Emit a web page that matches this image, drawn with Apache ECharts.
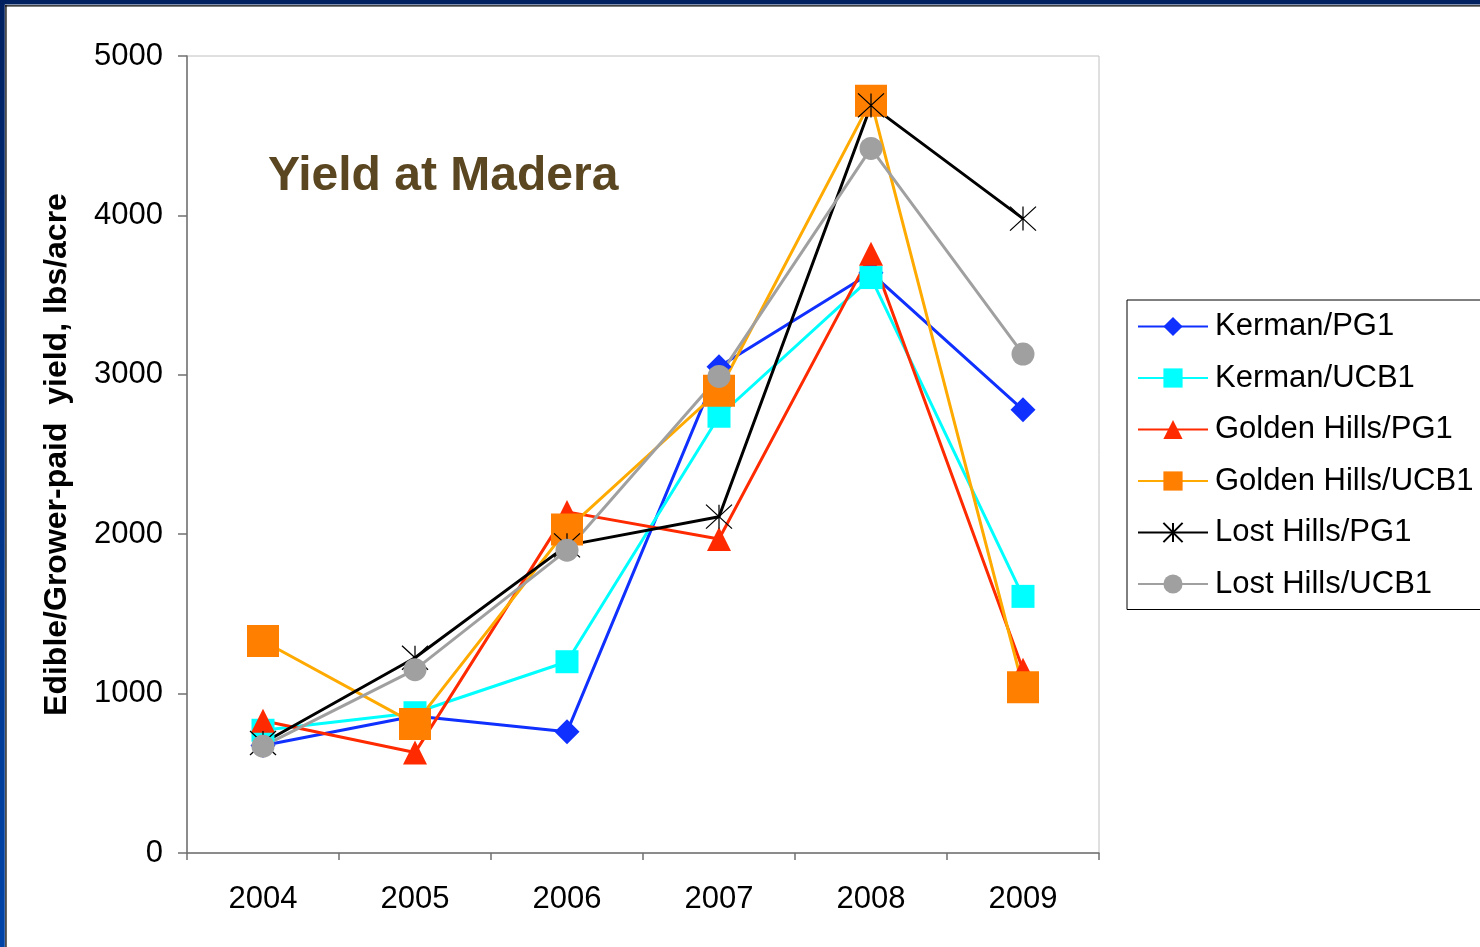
<!DOCTYPE html>
<html>
<head>
<meta charset="utf-8">
<script src="https://cdn.jsdelivr.net/npm/echarts@6/dist/echarts.min.js"></script>
<style>
html,body{margin:0;padding:0;background:#fff;}
#chart{width:1480px;height:947px;}
</style>
</head>
<body>
<div id="chart"></div>
<script>
const categories = ['2004', '2005', '2006', '2007', '2008', '2009'];
const seriesNames = ['Kerman/PG1', 'Kerman/UCB1', 'Golden Hills/PG1', 'Golden Hills/UCB1', 'Lost Hills/PG1', 'Lost Hills/UCB1'];
const kermanPG1 = [675, 860, 760, 3050, 3640, 2780];
const kermanUCB1 = [770, 880, 1200, 2740, 3610, 1610];
const goldenHillsPG1 = [830, 630, 2140, 1970, 3760, 1150];
const goldenHillsUCB1 = [1330, 810, 2030, 2900, 4720, 1040];
const lostHillsPG1 = [690, 1225, 1930, 2110, 4690, 3980];
const lostHillsUCB1 = [670, 1150, 1900, 2990, 4420, 3130];
const yMin = 0, yMax = 5000, yInterval = 1000;
const chartTitle = 'Yield at Madera';
const yAxisTitle = 'Edible/Grower-paid  yield, lbs/acre';

const FONT = '"Liberation Sans", Arial, sans-serif';
const asterisk = 'path://M0,0L20,20M20,0L0,20M10,0L10,20';

function mk(name, data, lineColor, symbol, size, itemStyle) {
  return {
    name: name, type: 'line', data: data,
    symbol: symbol, symbolSize: size, showAllSymbol: true,
    lineStyle: { color: lineColor, width: 3 },
    itemStyle: itemStyle,
    emphasis: { disabled: true },
    z: 2
  };
}

const chart = echarts.init(document.getElementById('chart'), null, { renderer: 'canvas' });
chart.setOption({
  animation: false,
  backgroundColor: '#ffffff',
  textStyle: { fontFamily: FONT },
  grid: {
    left: 187, right: 381, top: 56, bottom: 94,
    containLabel: false, outerBoundsMode: 'none',
    show: true, borderColor: '#c0c0c0', borderWidth: 1, backgroundColor: '#fff'
  },
  legend: {
    orient: 'vertical', left: 1127, top: 300,
    padding: [11, 30, 10, 10],
    borderColor: '#000', borderWidth: 1, backgroundColor: '#fff',
    itemWidth: 70, itemHeight: 24, itemGap: 20.5,
    textStyle: { fontSize: 31, color: '#000', fontFamily: FONT, lineHeight: 30, padding: [0, 0, 0, 2] },
    data: seriesNames
  },
  xAxis: {
    type: 'category', data: categories, boundaryGap: true,
    axisLine: { show: true, lineStyle: { color: '#707070', width: 1.5 } },
    axisTick: { show: true, length: 7, interval: 0, alignWithLabel: false, lineStyle: { color: '#707070', width: 1.5 } },
    axisLabel: { fontSize: 31, color: '#000', margin: 31, fontFamily: FONT, interval: 0 },
    splitLine: { show: false }
  },
  yAxis: {
    type: 'value', min: yMin, max: yMax, interval: yInterval,
    name: yAxisTitle, nameLocation: 'middle', nameGap: 114, nameRotate: 90,
    nameTextStyle: { fontSize: 32, fontWeight: 'bold', color: '#000', fontFamily: FONT },
    axisLine: { show: true, lineStyle: { color: '#707070', width: 1.5 } },
    axisTick: { show: true, length: 9, lineStyle: { color: '#707070', width: 1.5 } },
    axisLabel: { fontSize: 31, color: '#000', margin: 24, fontFamily: FONT, formatter: function (v) { return String(v); } },
    splitLine: { show: false }
  },
  graphic: [
    { type: 'rect', shape: { x: 0, y: 0, width: 1480, height: 4.6 }, style: { fill: '#002060' }, z: 100 },
    { type: 'rect', shape: { x: 0, y: 0, width: 4.8, height: 947 },
      style: { fill: new echarts.graphic.LinearGradient(0, 0, 0, 1, [{ offset: 0, color: '#002060' }, { offset: 1, color: '#0044a8' }]) }, z: 100 },
    { type: 'rect', shape: { x: 5, y: 5.2, width: 1475, height: 1.3 }, style: { fill: '#000' }, z: 100 },
    { type: 'rect', shape: { x: 5.3, y: 5.2, width: 1.3, height: 942 }, style: { fill: '#000' }, z: 100 },
    { type: 'text', x: 268, y: 177, z: 100,
      style: { text: chartTitle, fill: '#5a4621', font: 'bold 48px "Liberation Sans", Arial, sans-serif',
               verticalAlign: 'middle', textVerticalAlign: 'middle' } }
  ],
  series: [
    mk(seriesNames[0], kermanPG1, '#1030ff', 'diamond', 25, { color: '#1030ff' }),
    mk(seriesNames[1], kermanUCB1, '#00ffff', 'rect', 23, { color: '#00ffff' }),
    mk(seriesNames[2], goldenHillsPG1, '#ff2a00', 'triangle', 24, { color: '#ff2a00' }),
    mk(seriesNames[3], goldenHillsUCB1, '#ffaa00', 'rect', 32, { color: '#ff7f00' }),
    mk(seriesNames[4], lostHillsPG1, '#000000', asterisk, [26, 24], { color: 'rgba(0,0,0,0)', borderColor: '#000', borderWidth: 1.2 }),
    mk(seriesNames[5], lostHillsUCB1, '#a0a0a0', 'circle', 23, { color: '#a0a0a0' })
  ]
});
</script>
</body>
</html>
